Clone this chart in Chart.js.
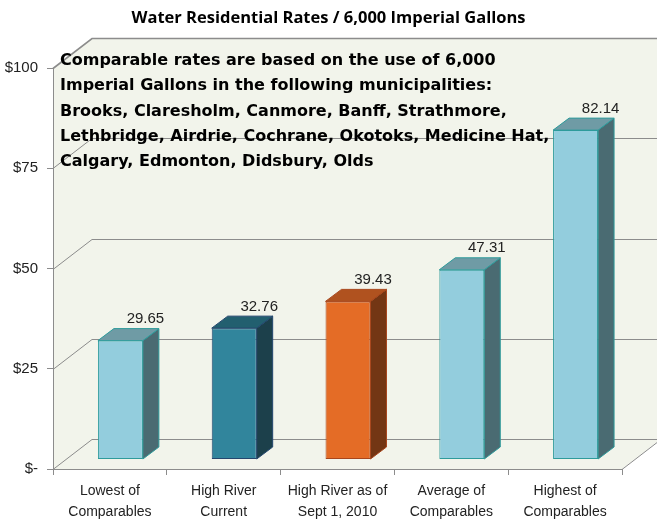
<!DOCTYPE html>
<html>
<head>
<meta charset="utf-8">
<script src="https://cdn.jsdelivr.net/npm/chart.js@4.4.1/dist/chart.umd.min.js"></script>
<style>
  html, body { margin: 0; padding: 0; background: #fff; }
</style>
</head>
<body>
<canvas id="grafica" width="657" height="523"></canvas>
<script>
// Datos de la gráfica
const categorias = [
    ['Lowest of', 'Comparables'],
    ['High River', 'Current'],
    ['High River as of', 'Sept 1, 2010'],
    ['Average of', 'Comparables'],
    ['Highest of', 'Comparables']
];
const tarifas = [29.65, 32.76, 39.43, 47.31, 82.14];
const valoresEje = [0, 25, 50, 75, 100];
const etiquetasEje = ['$-', '$25', '$50', '$75', '$100'];
const titulo = 'Water Residential Rates / 6,000 Imperial Gallons';
const nota = [
    'Comparable rates are based on the use of 6,000',
    'Imperial Gallons in the following municipalities:',
    'Brooks, Claresholm, Canmore, Banff, Strathmore,',
    'Lethbridge, Airdrie, Cochrane, Okotoks, Medicine Hat,',
    'Calgary, Edmonton, Didsbury, Olds'
];

// Colores de cada barra (cara frontal, borde, lado, tapa)
const colorFrente = ['#93CDDD', '#31859C', '#E46C26', '#93CDDD', '#93CDDD'];
const colorBorde = ['#2E9B9B', '#24476E', '#A8461C', '#2E9B9B', '#2E9B9B'];
const colorLado = ['#4A6B72', '#1C404B', '#733614', '#4A6B72', '#4A6B72'];
const colorTapa = ['#6F9BA5', '#225F6F', '#B0521F', '#6F9BA5', '#6F9BA5'];

// Profundidad del "3D"
const PARED_X = 39, PARED_Y = -30;   // pared del fondo
const BARRA_X = 10.5, BARRA_Y = -9.5; // posición de las barras
const FONDO_X = 16, FONDO_Y = -12;   // grosor de cada barra

// Plugin para pintar las paredes y las líneas de fondo
const paredes = {
    id: 'paredes',
    beforeDraw(chart) {
        const { ctx, chartArea: a, scales: { y } } = chart;
        ctx.save();
        ctx.fillStyle = '#fff';
        ctx.fillRect(0, 0, chart.width, chart.height);

        ctx.fillStyle = '#F2F4EB';
        ctx.beginPath();
        ctx.moveTo(a.left, a.top);
        ctx.lineTo(a.left + PARED_X, a.top + PARED_Y);
        ctx.lineTo(a.right + PARED_X, a.top + PARED_Y);
        ctx.lineTo(a.right + PARED_X, a.bottom + PARED_Y);
        ctx.lineTo(a.right, a.bottom);
        ctx.lineTo(a.left, a.bottom);
        ctx.closePath();
        ctx.fill();

        ctx.strokeStyle = '#8C8C8C';
        y.ticks.forEach(t => {
            const py = Math.round(y.getPixelForValue(t.value)) + 0.5;
            ctx.lineWidth = t.value === 100 ? 1.6 : 1;
            ctx.beginPath();
            ctx.moveTo(a.left, py);
            ctx.lineTo(a.left + PARED_X, py + PARED_Y);
            ctx.lineTo(a.right + PARED_X, py + PARED_Y);
            ctx.stroke();
        });
        // orilla derecha del piso
        ctx.lineWidth = 1;
        ctx.beginPath();
        ctx.moveTo(a.right, a.bottom + 0.5);
        ctx.lineTo(a.right + PARED_X, a.bottom + PARED_Y + 0.5);
        ctx.stroke();
        ctx.restore();
    },
    beforeDatasetsDraw(chart) {
        // Movemos las barras hacia el fondo
        chart.ctx.save();
        chart.ctx.translate(BARRA_X, BARRA_Y);
    },
    afterDatasetsDraw(chart) {
        const ctx = chart.ctx;
        const barras = chart.getDatasetMeta(0).data;
        barras.forEach((b, i) => {
            const izq = b.x - b.width / 2, der = b.x + b.width / 2;
            const arriba = b.y, abajo = b.base;
            ctx.lineWidth = 1;
            ctx.strokeStyle = colorBorde[i];
            // lado
            ctx.fillStyle = colorLado[i];
            ctx.beginPath();
            ctx.moveTo(der, arriba);
            ctx.lineTo(der + FONDO_X, arriba + FONDO_Y);
            ctx.lineTo(der + FONDO_X, abajo + FONDO_Y);
            ctx.lineTo(der, abajo);
            ctx.closePath();
            ctx.fill();
            ctx.stroke();
            // tapa
            ctx.fillStyle = colorTapa[i];
            ctx.beginPath();
            ctx.moveTo(izq, arriba);
            ctx.lineTo(izq + FONDO_X, arriba + FONDO_Y);
            ctx.lineTo(der + FONDO_X, arriba + FONDO_Y);
            ctx.lineTo(der, arriba);
            ctx.closePath();
            ctx.fill();
            ctx.stroke();
        });
        ctx.restore();

        // Etiquetas con el valor de cada barra
        ctx.save();
        ctx.font = '15px "Liberation Sans", Arial, sans-serif';
        ctx.fillStyle = '#222';
        ctx.textAlign = 'center';
        ctx.textBaseline = 'middle';
        barras.forEach((b, i) => {
            ctx.fillText(tarifas[i].toFixed(2), b.x + BARRA_X + 25, b.y + BARRA_Y - 21.5);
        });
        ctx.restore();
    },
    afterDraw(chart) {
        // Texto de la nota
        const ctx = chart.ctx;
        ctx.save();
        ctx.font = 'bold 16px "DejaVu Sans", sans-serif';
        ctx.fillStyle = '#000';
        ctx.textBaseline = 'alphabetic';
        nota.forEach((linea, i) => {
            ctx.fillText(linea, 60, 65 + i * 25.3);
        });
        ctx.restore();
    }
};

new Chart(document.getElementById('grafica'), {
    type: 'bar',
    data: {
        labels: categorias,
        datasets: [{
            data: tarifas,
            backgroundColor: colorFrente,
            borderColor: colorBorde,
            borderWidth: 1,
            borderSkipped: false,
            categoryPercentage: 1,
            barPercentage: 0.395,
            clip: false
        }]
    },
    options: {
        responsive: false,
        animation: false,
        layout: { padding: 0 },
        plugins: {
            legend: { display: false },
            tooltip: { enabled: false },
            title: {
                display: true,
                text: titulo,
                color: '#000',
                font: { family: '"Open Sans"', weight: 'bold', size: 16.5, lineHeight: 1.2 },
                padding: { top: 8, bottom: 40.2 }
            }
        },
        scales: {
            x: {
                grid: { drawOnChartArea: false, color: '#8C8C8C', tickLength: 6, offset: true },
                border: { color: '#8C8C8C' },
                ticks: {
                    color: '#222',
                    padding: 6,
                    maxRotation: 0,
                    font: { family: '"Liberation Sans", Arial', size: 14, lineHeight: 1.5 }
                },
                afterFit: s => { s.height = 54; }
            },
            y: {
                min: 0,
                max: 100,
                ticks: {
                    stepSize: 25,
                    color: '#222',
                    padding: 9,
                    font: { family: '"Liberation Sans", Arial', size: 15 },
                    callback: v => etiquetasEje[valoresEje.indexOf(v)]
                },
                grid: { drawOnChartArea: false, color: '#8C8C8C', tickLength: 6 },
                border: { color: '#8C8C8C' },
                afterFit: s => { s.width = 53; }
            },
            // Eje vacío a la derecha solo para dejar el espacio de la pared del fondo
            derecha: {
                position: 'right',
                display: true,
                grid: { display: false },
                border: { display: false },
                ticks: { display: false },
                afterFit: s => { s.width = 35; }
            }
        }
    },
    plugins: [paredes]
});
</script>
</body>
</html>
